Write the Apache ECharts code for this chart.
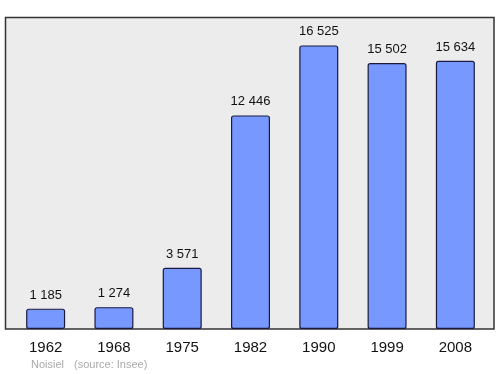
<!DOCTYPE html>
<html><head><meta charset="utf-8">
<script src="https://cdn.jsdelivr.net/npm/echarts@6/dist/echarts.min.js"></script>
<style>html,body{margin:0;padding:0;background:#fff}#c{width:500px;height:374px}</style>
</head><body><div id="c"></div>
<script>
const years = ['1962','1968','1975','1982','1990','1999','2008'];
const population = [1185, 1274, 3571, 12446, 16525, 15502, 15634];
const footerPlace = 'Noisiel';
const footerSource = '(source: Insee)';

const FONT = '"Liberation Sans", Arial, sans-serif';
const chart = echarts.init(document.getElementById('c'), null, {renderer:'canvas'});
chart.setOption({
  animation:false,
  backgroundColor:'#ffffff',
  graphic:[
    {type:'rect', shape:{x:5.5,y:17.5,width:488.5,height:311.5}, style:{fill:'#ececec',stroke:'#333',lineWidth:1.5}, z:-10, silent:true},
    {type:'text', left:31, top:359, style:{text:footerPlace, fill:'#aaaaaa', font:'11px ' + FONT}},
    {type:'text', left:74, top:359, style:{text:footerSource, fill:'#aaaaaa', font:'11px ' + FONT}}
  ],
  grid:{left:11.5, width:478, top:17.5, height:311.5},
  xAxis:{type:'category', data:years, boundaryGap:true,
    axisLine:{show:false}, axisTick:{show:false},
    axisLabel:{color:'#111', fontSize:15, margin:11, fontFamily:FONT}},
  yAxis:{type:'value', min:0, max:18150, show:false, splitLine:{show:false}},
  series:[{
    type:'bar', data:population, barWidth:39,
    itemStyle:{color:'#7799ff', borderColor:'#1a1a40', borderWidth:1.2, borderRadius:2},
    label:{show:true, position:'top', distance:7, color:'#111', fontSize:13,
      fontFamily:FONT,
      formatter:p=>String(p.value).replace(/\B(?=(\d{3})+(?!\d))/g,' ')}
  }]
});
</script></body></html>
